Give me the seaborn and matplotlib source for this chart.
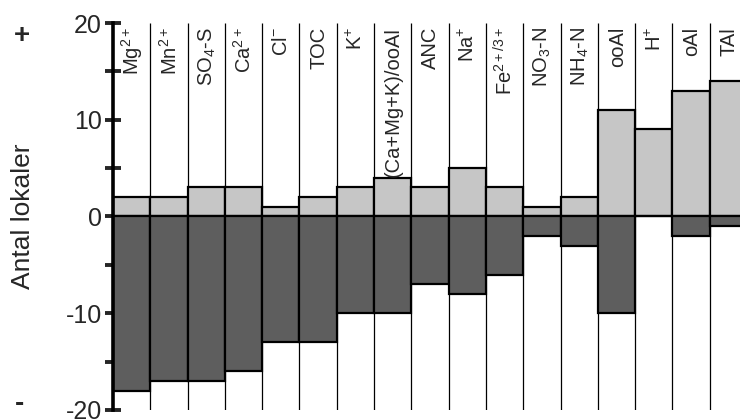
import matplotlib
matplotlib.use("Agg")
import matplotlib.pyplot as plt
from matplotlib.ticker import MultipleLocator
import seaborn as sns
import pandas as pd

# Kategorier och antal lokaler (positiva / negativa)
categories = [
    r'Mg$^{2+}$', r'Mn$^{2+}$', r'SO$_4$-S', r'Ca$^{2+}$', r'Cl$^{-}$', 'TOC',
    r'K$^{+}$', '(Ca+Mg+K)/ooAl', 'ANC', r'Na$^{+}$', r'Fe$^{2+/3+}$',
    r'NO$_3$-N', r'NH$_4$-N', 'ooAl', r'H$^{+}$', 'oAl', 'TAl'
]
positive = [2, 2, 3, 3, 1, 2, 3, 4, 3, 5, 3, 1, 2, 11, 9, 13, 14]
negative = [-18, -17, -17, -16, -13, -13, -10, -10, -7, -8, -6, -2, -3, -10, 0, -2, -1]

df = pd.DataFrame({'kat': categories, 'pos': positive, 'neg': negative})

sns.set_style("white")
plt.rcParams['font.family'] = ['Liberation Sans', 'DejaVu Sans']
plt.rcParams['mathtext.fontset'] = 'custom'
plt.rcParams['mathtext.rm'] = 'Liberation Sans'
plt.rcParams['mathtext.it'] = 'Liberation Sans'
plt.rcParams['axes.unicode_minus'] = False

fig = plt.figure(figsize=(7.4, 4.19), dpi=100)
ax = fig.add_axes([0.1527, 0.0215, 634 / 740, 0.9236])

# tunna skiljelinjer mellan kategorierna
n = len(categories)
ax.vlines([i + 0.5 for i in range(n)], -20, 20, color='black', linewidth=0.9, zorder=0)

sns.barplot(data=df, x='kat', y='pos', color='#c6c6c6', saturation=1, width=1,
            edgecolor='black', linewidth=1.6, ax=ax, zorder=2)
sns.barplot(data=df, x='kat', y='neg', color='#5e5e5e', saturation=1, width=1,
            edgecolor='black', linewidth=1.6, ax=ax, zorder=2)

for i, lab in enumerate(categories):
    ax.text(i + 0.02, 19.6, lab, rotation=90, ha='center', va='top', fontsize=14.5)

ax.set_xlim(-0.5, n - 0.5)
ax.set_ylim(-20, 20)
ax.set_xticks([])
ax.set_xlabel('')
ax.set_ylabel('Antal lokaler', fontsize=19, labelpad=22)
ax.yaxis.set_major_locator(MultipleLocator(10))
ax.yaxis.set_minor_locator(MultipleLocator(5))
ax.tick_params(axis='y', which='both', direction='inout', length=12, width=2.8,
               labelsize=18, pad=2, left=True)
for s in ['top', 'right', 'bottom']:
    ax.spines[s].set_visible(False)
ax.spines['left'].set_linewidth(2.6)
ax.spines['left'].set_color('black')
ax.spines['left'].set_zorder(5)

fig.text(22 / 740, 1 - 36 / 419, '+', fontsize=20, fontweight='bold', ha='center', va='center')
fig.text(20 / 740, 1 - 404 / 419, '-', fontsize=20, fontweight='bold', ha='center', va='center')

fig.savefig('out.png', dpi=100)
